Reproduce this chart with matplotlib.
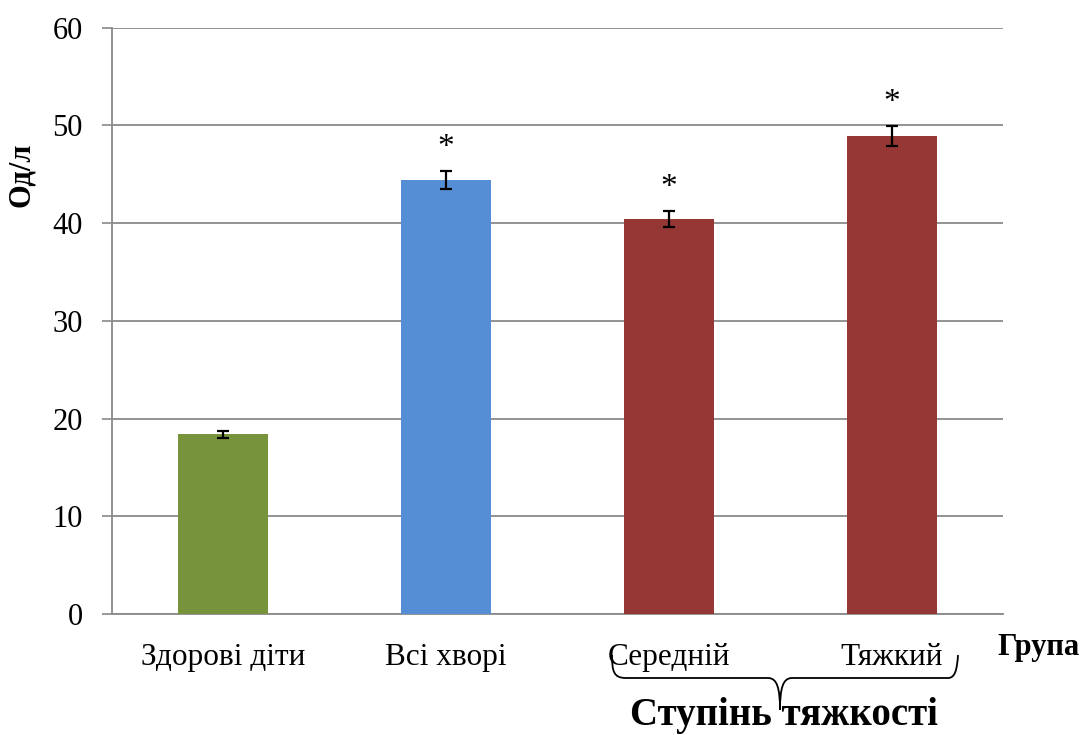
import matplotlib
matplotlib.use("Agg")
import matplotlib.pyplot as plt
from matplotlib.path import Path
from matplotlib.patches import PathPatch

# Data
categories = ["Здорові діти", "Всі хворі", "Середній", "Тяжкий"]
values = [18.4, 44.4, 40.4, 48.9]
errors = [0.35, 0.9, 0.8, 1.0]
significant = [False, True, True, True]
bar_colors = ["#77933C", "#558ED5", "#953735", "#953735"]
y_ticks = [0, 10, 20, 30, 40, 50, 60]

plt.rcParams["font.family"] = ["Liberation Serif", "DejaVu Serif"]

W, H = 1086, 735
fig = plt.figure(figsize=(W / 100, H / 100), dpi=100)
ax = fig.add_axes([112 / W, 1 - 614 / H, 891 / W, (614 - 27.7) / H])

x = list(range(len(categories)))
ax.bar(x, values, width=0.404, color=bar_colors, zorder=3)
ax.errorbar(x, values, yerr=errors, fmt="none", ecolor="black",
            elinewidth=1.6, capsize=4.5, capthick=1.6, zorder=4)

for xi, v, e, s in zip(x, values, errors, significant):
    if s:
        ax.text(xi, v + e + 2.4, "*", ha="center", va="center",
                fontsize=24, color="black")

ax.set_xlim(-0.5, 3.5)
ax.set_ylim(0, 60)
ax.set_yticks(y_ticks)
ax.set_yticklabels([str(t) for t in y_ticks], fontsize=22)
ax.set_xticks(x)
ax.set_xticklabels(categories, fontsize=22.5)
ax.tick_params(axis="x", length=0, pad=21)
ax.tick_params(axis="y", length=7, width=1.2, color="#898989", pad=14)

grid_color = "#8a8a8a"
ax.yaxis.grid(True, color=grid_color, linewidth=1.3, zorder=0)
ax.set_axisbelow(True)
for side in ["top", "right"]:
    ax.spines[side].set_visible(False)
for side in ["left", "bottom"]:
    ax.spines[side].set_color(grid_color)
    ax.spines[side].set_linewidth(1.3)

# Axis titles
fig.text(22 / W, 1 - 175 / H, "Од/л", rotation=90, ha="center", va="center",
         fontsize=22, fontweight="bold")
fig.text(997 / W, 1 - 647 / H, "Група", ha="left", va="center",
         fontsize=22, fontweight="bold")

# Brace grouping the severity categories
overlay = fig.add_axes([0, 0, 1, 1], facecolor="none")
overlay.set_xlim(0, W)
overlay.set_ylim(H, 0)
overlay.axis("off")
verts = [
    (612, 655), (612, 672), (614, 678), (626, 678),
    (768, 678),
    (777, 678), (780, 688), (780, 710),
    (780, 688), (783, 678), (792, 678),
    (948, 678),
    (955, 678), (957, 670), (958, 655),
]
codes = [
    Path.MOVETO, Path.CURVE4, Path.CURVE4, Path.CURVE4,
    Path.LINETO,
    Path.CURVE4, Path.CURVE4, Path.CURVE4,
    Path.CURVE4, Path.CURVE4, Path.CURVE4,
    Path.LINETO,
    Path.CURVE4, Path.CURVE4, Path.CURVE4,
]
overlay.add_patch(PathPatch(Path(verts, codes), fill=False, lw=1.3,
                            edgecolor="black"))
overlay.text(784, 715, "Ступінь тяжкості", ha="center", va="center",
             fontsize=28, fontweight="bold")

fig.savefig("out.png", dpi=100, facecolor="white")
